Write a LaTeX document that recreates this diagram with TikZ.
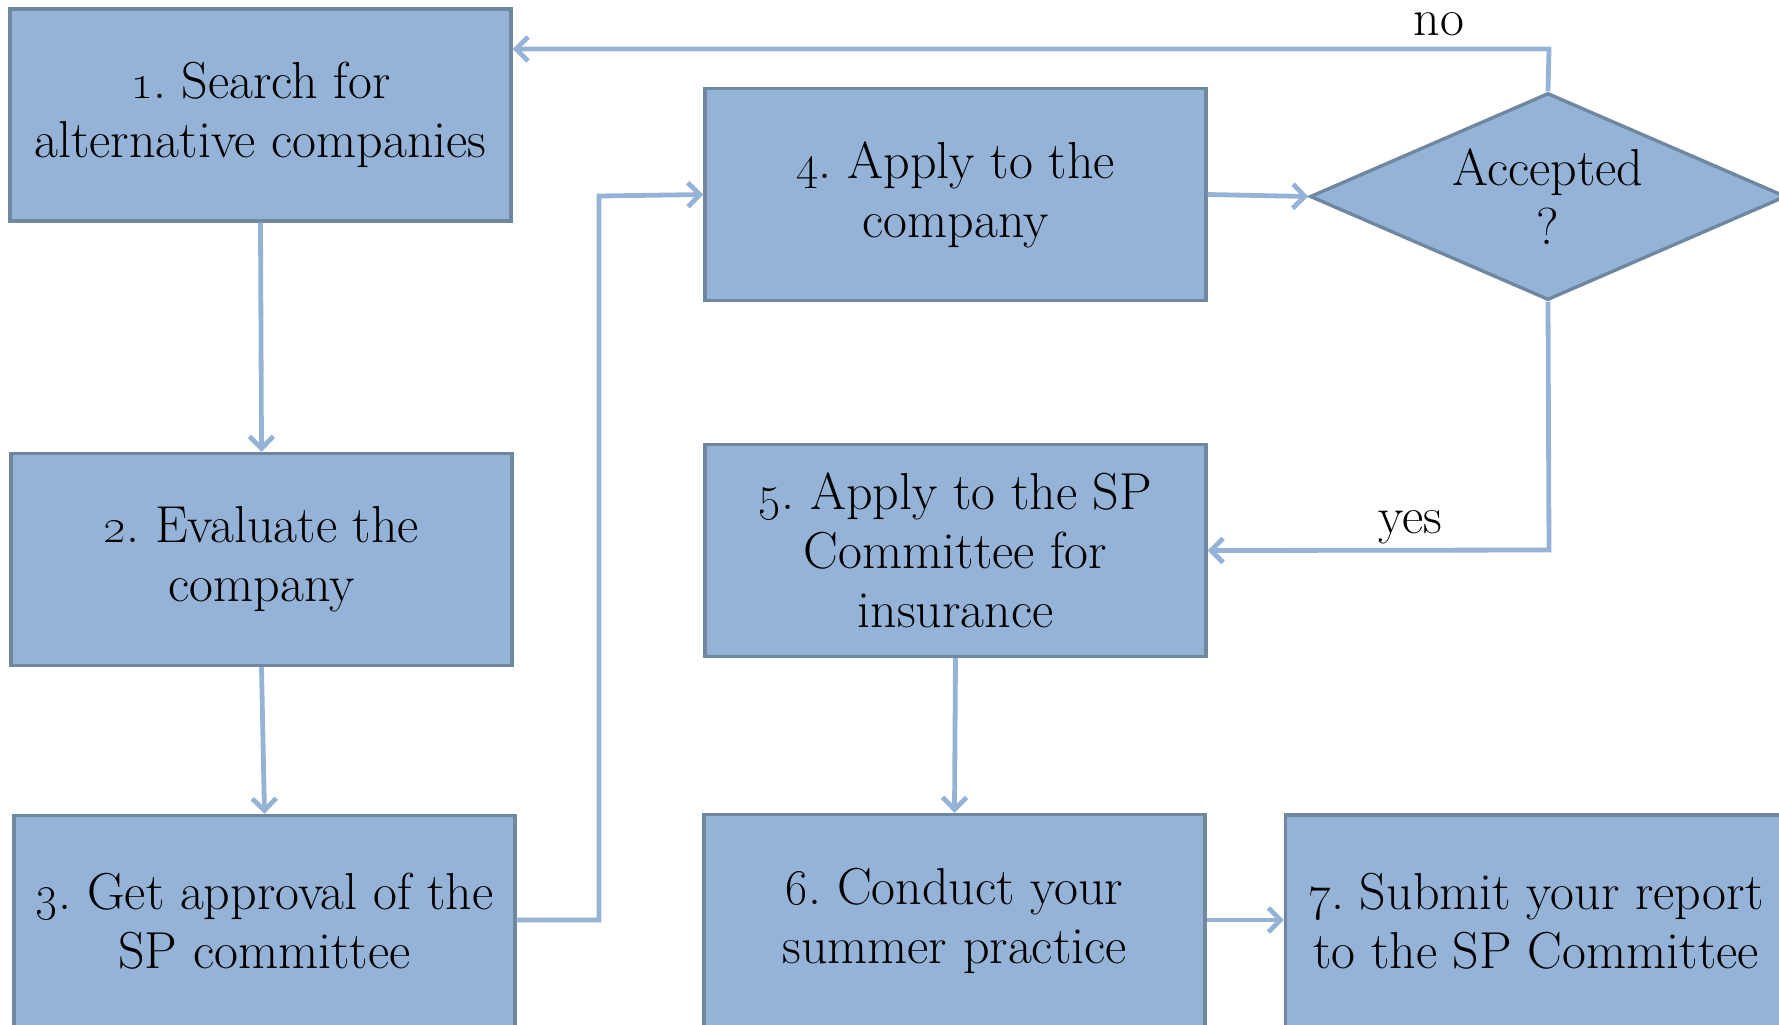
\documentclass[tikz,border=0pt]{standalone}
\usetikzlibrary{shapes.geometric,arrows.meta}
\definecolor{boxfill}{HTML}{95B3D7}
\definecolor{boxedge}{HTML}{6F879F}
\definecolor{conncol}{HTML}{95B3D7}
\frenchspacing
\begin{document}
\begin{tikzpicture}[x=0.5pt,y=-0.5pt,
  stepbox/.style={draw=boxedge, fill=boxfill, line width=1.7pt,
    minimum width=250.5pt, minimum height=106pt, inner sep=0pt,
    align=center, font=\fontsize{26}{29.5}\selectfont\frenchspacing},
  decision/.style={diamond, aspect=2.3, draw=boxedge, fill=boxfill, line width=1.7pt,
    minimum width=238pt, minimum height=103.5pt, inner sep=0pt,
    align=center, font=\fontsize{26}{29.5}\selectfont},
  conn/.style={draw=conncol, line width=2.4pt, -{Straight Barb[length=6pt,width=12pt]}},
  lbl/.style={font=\fontsize{26}{29.5}\selectfont, inner sep=0pt, anchor=base}]
\useasboundingbox (0,0) rectangle (1779,1024);
\clip (0,0) rectangle (1779,1024);

\node[stepbox] (b1) at (260.5,115) {\oldstylenums{1}. Search for\\alternative companies};
\node[stepbox] (b2) at (261.5,559.5) {\oldstylenums{2}. Evaluate the\\company};
\node[stepbox] (b3) at (264.5,921.5) {\oldstylenums{3}. Get approval of the\\SP committee};
\node[stepbox] (b4) at (955.5,194.5) {\oldstylenums{4}. Apply to the\\company};
\node[decision] (dia) at (1548,196.5) {Accepted\\?};
\node[stepbox] (b5) at (955.5,550.5) {\oldstylenums{5}. Apply to the SP\\Committee for\\insurance};
\node[stepbox] (b6) at (954.5,920.5) {\oldstylenums{6}. Conduct your\\summer practice};
\node[stepbox] (b7) at (1536,921) {\oldstylenums{7}. Submit your report\\to the SP Committee};

\coordinate (nocorner) at (1549,49);
\coordinate (yescorner) at (1549,550);
\coordinate (upcorner) at (599,920);
\coordinate (topcorner) at (599,196);

\draw[conn] (b1.south) -- (b2.north);
\draw[conn] (b2.south) -- (b3.north);
\draw[conn] (b3.east |- upcorner) -- (upcorner) -- (topcorner) -- (b4.west);
\draw[conn] (b4.east) -- (dia.west);
\draw[conn] (dia.north) -- (nocorner) -- (b1.east |- nocorner);
\draw[conn] (dia.south) -- (yescorner) -- (b5.east);
\draw[conn] (b5.south) -- (b6.north);
\draw[conn] (b6.east |- upcorner) -- (b7.west |- upcorner);

\node[lbl] (nolab) at (1439,35) {no};
\node[lbl] (yeslab) at (1410,533) {yes};
\end{tikzpicture}
\end{document}
